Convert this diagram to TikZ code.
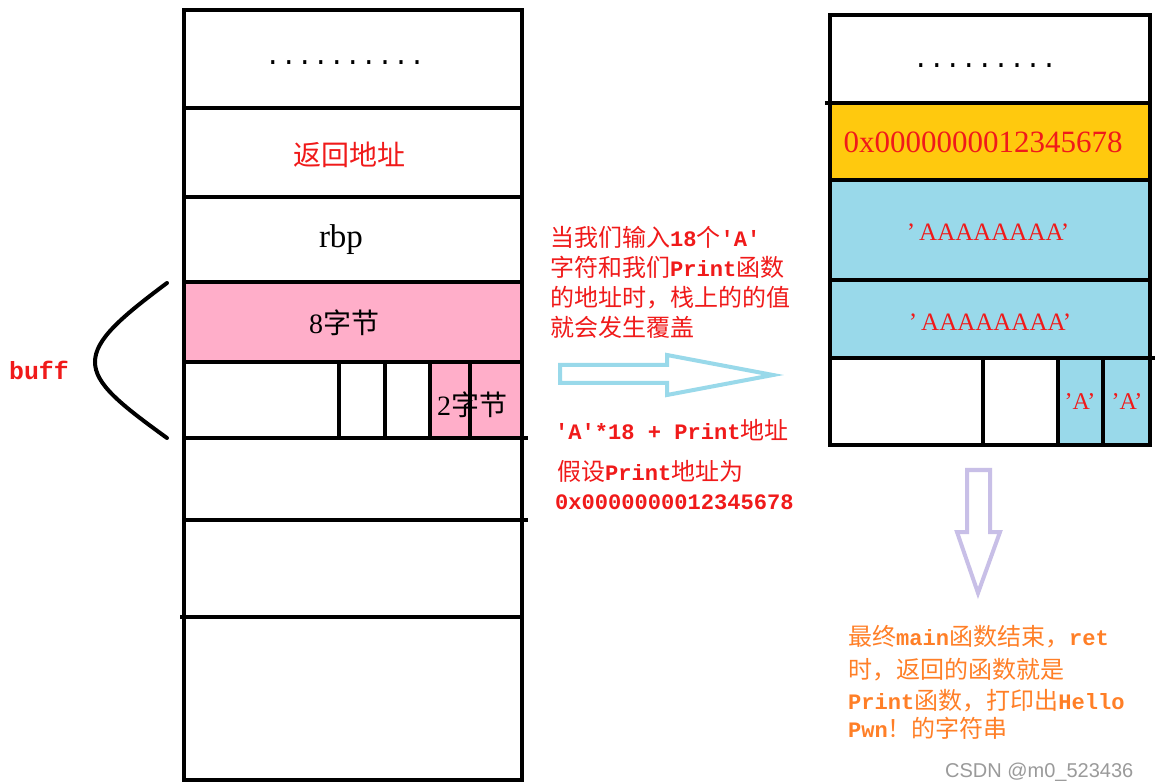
\documentclass[tikz,border=0pt]{standalone}
\usepackage{fontspec}
\setmainfont{Liberation Serif}
\newfontfamily\cjk{Noto Sans CJK SC}
\newfontfamily\monoA[Scale=0.92]{Liberation Mono}
\newfontfamily\wmfont{Liberation Sans}
\newcommand{\mytt}[1]{{\monoA\bfseries #1}}
\definecolor{pinkc}{HTML}{FFAEC9}
\definecolor{bluec}{HTML}{99D9EA}
\definecolor{goldc}{HTML}{FFC90E}
\definecolor{redc}{HTML}{F01A1A}
\definecolor{orangec}{HTML}{FF7F27}
\definecolor{lavc}{HTML}{C8BFE7}
\definecolor{wmgray}{HTML}{9A9A9A}
\tikzset{
  stk/.style={line width=4.5pt, black},
  stkr/.style={line width=4pt, black},
  note/.style={anchor=base west, inner sep=0pt, text=redc, font=\cjk\fontsize{24}{30}\selectfont},
  onote/.style={anchor=base west, inner sep=0pt, text=orangec, font=\cjk\fontsize{24}{30}\selectfont},
  cell/.style={inner sep=0pt},
}
\begin{document}
\begin{tikzpicture}[x=1pt,y=-1pt]
\useasboundingbox (0,0) rectangle (1157,783);
\fill[white] (0,0) rectangle (1157,783);

% ---------- left stack fills ----------
\fill[pinkc] (184,282) rectangle (522,362);
\fill[pinkc] (430,362) rectangle (522,438);

% ---------- left stack lines ----------
\draw[stk] (184,10) rectangle (522,780);
\draw[stk] (184,108) -- (522,108);
\draw[stk] (184,197) -- (522,197);
\draw[stk] (184,282) -- (522,282);
\draw[stk] (184,362) -- (522,362);
\draw[stk] (184,438) -- (528,438);
\draw[stk] (184,520) -- (528,520);
\draw[stk] (180,617) -- (522,617);
\draw[stk] (339,362) -- (339,438);
\draw[stk] (385,362) -- (385,440);
\draw[stk] (430,362) -- (430,440);
\draw[stk] (470,362) -- (470,438);

% ---------- left stack labels ----------
\node[cell, font=\monoA\fontsize{29}{29}\selectfont] (ldots) at (345,63) {..........};
\node[cell, text=redc, font=\cjk\fontsize{28}{28}\selectfont] (ret) at (349,155) {返回地址};
\node[cell, font=\fontsize{33}{33}\selectfont] (rbp) at (341,240) {rbp};
\node[cell, font=\cjk\fontsize{28}{28}\selectfont] (b8) at (344,323) {{\rmfamily 8}字节};
\node[cell, font=\cjk\fontsize{28}{28}\selectfont] (b2) at (472,405) {{\rmfamily 2}字节};

% ---------- buff bracket ----------
\draw[line width=4pt, line cap=round] (167,283) .. controls (120,318) and (95,340) .. (95,362) .. controls (95,384) and (120,404) .. (167,438);
\node[cell, text=redc, font=\monoA\bfseries\fontsize{27}{27}\selectfont] (buff) at (39,370) {buff};

% ---------- middle annotation ----------
\node[note] (m1) at (550,247) {当我们输入\mytt{18}个\mytt{'A'}};
\node[note] (m2) at (550,277) {字符和我们\mytt{Print}函数};
\node[note] (m3) at (550,307) {的地址时，栈上的的值};
\node[note] (m4) at (550,337) {就会发生覆盖};

\draw[bluec, line width=4pt, line join=miter] (560,365) -- (667,365) -- (667,355) -- (773,375) -- (667,395) -- (667,383) -- (560,383) -- cycle;

\node[note] (m5) at (555,439) {\mytt{'A'*18 + Print}地址};
\node[note] (m6) at (557,480) {假设\mytt{Print}地址为};
\node[note] (m7) at (555,509) {\mytt{0x0000000012345678}};

% ---------- right stack fills ----------
\fill[goldc] (830,103) rectangle (1150,180);
\fill[bluec] (830,180) rectangle (1150,280);
\fill[bluec] (830,280) rectangle (1150,358);
\fill[bluec] (1058,358) rectangle (1150,445);

% ---------- right stack lines ----------
\draw[stkr] (830,15) rectangle (1150,445);
\draw[stkr] (825,103) -- (1150,103);
\draw[stkr] (830,180) -- (1150,180);
\draw[stkr] (830,280) -- (1150,280);
\draw[stkr] (830,358) -- (1155,358);
\draw[stkr] (983,358) -- (983,445);
\draw[stkr] (1058,358) -- (1058,445);
\draw[stkr] (1103,358) -- (1103,447);

% ---------- right stack labels ----------
\node[cell, font=\monoA\fontsize{29}{29}\selectfont] (rdots) at (985,66) {.........};
\node[cell, text=redc, font=\fontsize{31}{31}\selectfont] (addr) at (983,142) {0x0000000012345678};
\node[cell, text=redc, font=\fontsize{25}{25}\selectfont] (a8a) at (988,232) {’\,AAAAAAAA’};
\node[cell, text=redc, font=\fontsize{25}{25}\selectfont] (a8b) at (990,322) {’\,AAAAAAAA’};
\node[cell, text=redc, font=\fontsize{24}{24}\selectfont] (a1) at (1080,402) {’A’};
\node[cell, text=redc, font=\fontsize{24}{24}\selectfont] (a2) at (1127,402) {’A’};

% ---------- down arrow ----------
\draw[lavc, line width=4pt, line join=miter] (967,470) -- (990,470) -- (990,532) -- (1000,532) -- (978,593) -- (957,532) -- (967,532) -- cycle;

% ---------- bottom annotation ----------
\node[onote] (o1) at (848,645) {最终\mytt{main}函数结束，\mytt{ret}};
\node[onote] (o2) at (848,678) {时，返回的函数就是};
\node[onote] (o3) at (848,709) {\mytt{Print}函数，打印出\mytt{Hello}};
\node[onote] (o4) at (848,737) {\mytt{Pwn}！的字符串};

% ---------- watermark ----------
\node[anchor=west, inner sep=0pt, text=wmgray, font=\wmfont\fontsize{20}{20}\selectfont] (wm) at (945,772) {CSDN @m0\_523436};
\end{tikzpicture}
\end{document}
